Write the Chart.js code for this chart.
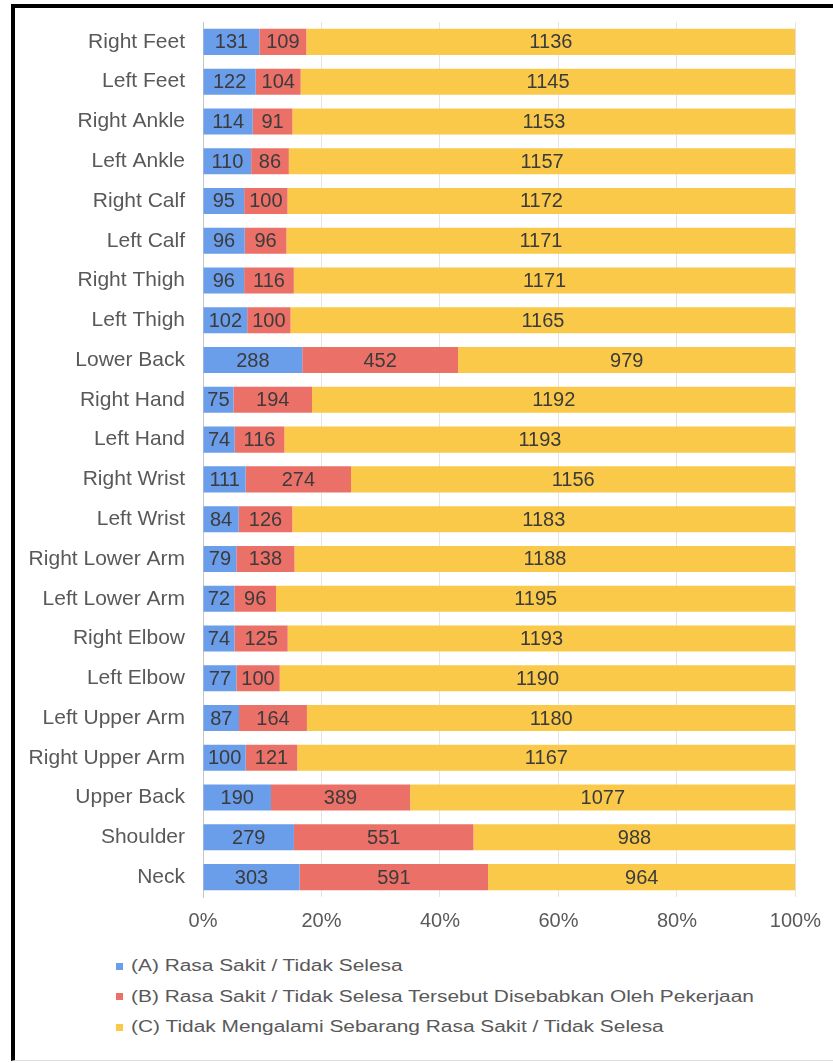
<!DOCTYPE html>
<html>
<head>
<meta charset="utf-8">
<script src="https://cdn.jsdelivr.net/npm/chart.js@4"></script>
<style>
    html, body { margin: 0; padding: 0; background: #fff; }
    body { width: 833px; height: 1063px; position: relative; overflow: hidden; }
    #frame {
        position: absolute; left: 11px; top: 4px; width: 900px; height: 1052px;
        border-top: 4px solid #000; border-left: 4px solid #000; border-bottom: 1px solid #ddd;
    }
    #wrap { position: absolute; left: 0; top: 0; width: 833px; height: 945px; }
    #legend {
        position: absolute; left: 116px; top: 951px;
        font-family: 'Liberation Sans', Arial, sans-serif; font-size: 16px; color: #595959;
    }
    .item { height: 30.5px; display: flex; align-items: center; white-space: nowrap; }
    .box { width: 7px; height: 7px; margin-right: 8px; flex: none; }
    .txt { display: inline-block; transform: scaleX(1.305); transform-origin: left center; }
</style>
</head>
<body>
<div id="frame"></div>
<div id="wrap"><canvas id="chart"></canvas></div>
<div id="legend"></div>
<script>
const parts = [
    'Right Feet', 'Left Feet', 'Right Ankle', 'Left Ankle', 'Right Calf', 'Left Calf',
    'Right Thigh', 'Left Thigh', 'Lower Back', 'Right Hand', 'Left Hand', 'Right Wrist',
    'Left Wrist', 'Right Lower Arm', 'Left Lower Arm', 'Right Elbow', 'Left Elbow',
    'Left Upper Arm', 'Right Upper Arm', 'Upper Back', 'Shoulder', 'Neck',
];

const painA = [131, 122, 114, 110, 95, 96, 96, 102, 288, 75, 74, 111, 84, 79, 72, 74, 77, 87, 100, 190, 279, 303];
const painB = [109, 104, 91, 86, 100, 96, 116, 100, 452, 194, 116, 274, 126, 138, 96, 125, 100, 164, 121, 389, 551, 591];
const painC = [1136, 1145, 1153, 1157, 1172, 1171, 1171, 1165, 979, 1192, 1193, 1156, 1183, 1188, 1195, 1193, 1190, 1180, 1167, 1077, 988, 964];

const seriesNames = [
    '(A) Rasa Sakit / Tidak Selesa',
    '(B) Rasa Sakit / Tidak Selesa Tersebut Disebabkan Oleh Pekerjaan',
    '(C) Tidak Mengalami Sebarang Rasa Sakit / Tidak Selesa',
];
const seriesColors = ['#6A9DEA', '#EB7068', '#FAC94A'];
const xTicks = [0, 20, 40, 60, 80, 100];

const FONT = "'Liberation Sans', Arial, sans-serif";
const counts = [painA, painB, painC];
const totals = parts.map((_, i) => painA[i] + painB[i] + painC[i]);

// inline replacement for the datalabels plugin: raw count centred in each segment
const segmentLabels = {
    id: 'segmentLabels',
    afterDatasetsDraw(chart) {
        const { ctx } = chart;
        ctx.save();
        ctx.font = `20px ${FONT}`;
        ctx.fillStyle = '#3b3b3b';
        ctx.textAlign = 'center';
        ctx.textBaseline = 'middle';
        chart.data.datasets.forEach((ds, di) => {
            chart.getDatasetMeta(di).data.forEach((bar, i) => {
                ctx.fillText(String(ds.counts[i]), (bar.x + bar.base) / 2, bar.y + 1);
            });
        });
        ctx.restore();
    },
};

const createChart = () => {
    const ctx = document.getElementById('chart').getContext('2d');
    return new Chart(ctx, {
        type: 'bar',
        data: {
            labels: parts,
            datasets: counts.map((arr, k) => ({
                label: seriesNames[k],
                counts: arr,
                data: arr.map((v, i) => (v / totals[i]) * 100),
                backgroundColor: seriesColors[k],
                borderWidth: 0,
                categoryPercentage: 1,
                barPercentage: 0.655,
            })),
        },
        options: {
            indexAxis: 'y',
            responsive: true,
            maintainAspectRatio: false,
            animation: false,
            layout: { padding: { top: 22, right: 37, bottom: 0, left: 0 } },
            plugins: { legend: { display: false }, tooltip: { enabled: false } },
            scales: {
                x: {
                    stacked: true,
                    min: 0,
                    max: 100,
                    afterBuildTicks: (scale) => {
                        scale.ticks = xTicks.map((v) => ({ value: v }));
                    },
                    afterFit: (scale) => {
                        scale.height = 48;
                    },
                    grid: { color: '#e4e4e4', lineWidth: 1, drawTicks: false },
                    border: { display: false },
                    ticks: {
                        padding: 12,
                        color: '#595959',
                        font: { family: FONT, size: 20 },
                        callback: (v) => `${v}%`,
                        maxRotation: 0,
                    },
                },
                y: {
                    stacked: true,
                    afterFit: (scale) => {
                        scale.width = 203;
                        scale.paddingTop = 0;
                        scale.paddingBottom = 0;
                    },
                    grid: { display: false, drawTicks: false },
                    border: { display: true, color: '#c6c6c6', lineWidth: 1 },
                    ticks: {
                        padding: 18,
                        color: '#595959',
                        font: { family: FONT, size: 21 },
                        autoSkip: false,
                    },
                },
            },
        },
        plugins: [segmentLabels],
    });
};

const createLegend = () => {
    const el = document.getElementById('legend');
    el.innerHTML = seriesNames
        .map((name, k) => `<div class="item"><span class="box" style="background:${seriesColors[k]}"></span><span class="txt">${name}</span></div>`)
        .join('');
};

createChart();
createLegend();
</script>
</body>
</html>
